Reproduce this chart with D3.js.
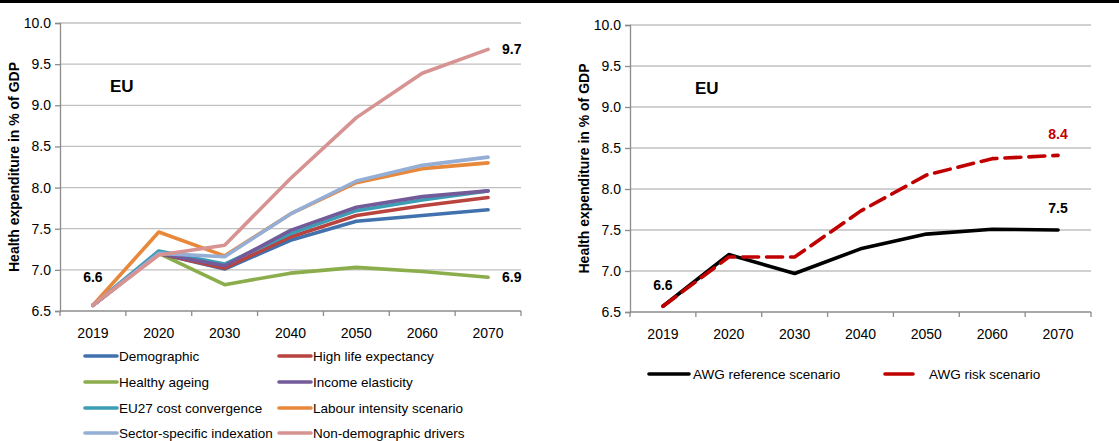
<!DOCTYPE html>
<html lang="en">
<head>
<meta charset="utf-8">
<title>Health expenditure projections - EU</title>
<script src="https://d3js.org/d3.v7.min.js"></script>
<style>
  body { margin: 0; background: #fff; }
  svg text { font-family: "Liberation Sans", Arial, sans-serif; }
</style>
</head>
<body>
<script>
// years on the x axis
var years = ["2019", "2020", "2030", "2040", "2050", "2060", "2070"];
var yTicks = [6.5, 7.0, 7.5, 8.0, 8.5, 9.0, 9.5, 10.0];

// left panel: sensitivity scenarios
var demographic   = [6.57, 7.20, 7.01, 7.36, 7.59, 7.66, 7.73];
var highLife      = [6.57, 7.20, 7.02, 7.40, 7.66, 7.78, 7.88];
var healthyAgeing = [6.57, 7.20, 6.82, 6.96, 7.03, 6.98, 6.91];
var incomeElast   = [6.57, 7.20, 7.05, 7.48, 7.76, 7.89, 7.96];
var costConv      = [6.57, 7.23, 7.07, 7.44, 7.72, 7.85, 7.96];
var labourInt     = [6.57, 7.46, 7.17, 7.68, 8.06, 8.23, 8.30];
var sectorIndex   = [6.57, 7.20, 7.16, 7.68, 8.08, 8.27, 8.37];
var nonDemo       = [6.57, 7.18, 7.30, 8.11, 8.85, 9.39, 9.68];

// right panel: AWG scenarios
var awgReference  = [6.57, 7.20, 6.97, 7.27, 7.45, 7.51, 7.50];
var awgRisk       = [6.57, 7.17, 7.17, 7.73, 8.17, 8.37, 8.41];

var leftSeries = [
  {name: "Demographic", values: demographic, color: "#4272ad"},
  {name: "High life expectancy", values: highLife, color: "#b8433f"},
  {name: "Healthy ageing", values: healthyAgeing, color: "#8cad4b"},
  {name: "Income elasticity", values: incomeElast, color: "#735b9a"},
  {name: "EU27 cost convergence", values: costConv, color: "#3c9db5"},
  {name: "Labour intensity scenario", values: labourInt, color: "#e8883b"},
  {name: "Sector-specific indexation", values: sectorIndex, color: "#94aed6"},
  {name: "Non-demographic drivers", values: nonDemo, color: "#d69391"}
];
// draw order in the picture (pink on top of the others)
var drawOrder = [2, 0, 1, 4, 3, 5, 6, 7];

var rightSeries = [
  {name: "AWG reference scenario", values: awgReference, color: "#000000"},
  {name: "AWG risk scenario", values: awgRisk, color: "#c00000", dash: "16,8"}
];

var W = 1119, H = 441;
var svg = d3.select("body").append("svg").attr("width", W).attr("height", H);

// thick rule at the top
svg.append("rect").attr("x", 0).attr("y", 0).attr("width", W).attr("height", 3).attr("fill", "#000");

function panel(x0, x1, yTop, yBot, euOffset, series, order) {
  var x = d3.scaleBand().domain(years).range([x0, x1]);
  var y = d3.scaleLinear().domain([6.5, 10]).range([yBot, yTop]);
  var g = svg.append("g");

  // gridlines
  g.selectAll(".grid").data(yTicks.slice(1)).enter().append("line")
    .attr("x1", x0).attr("x2", x1)
    .attr("y1", function(d) { return y(d); }).attr("y2", function(d) { return y(d); })
    .attr("stroke", "#c0c0c0").attr("stroke-width", 1.3);

  var yAxis = d3.axisLeft(y).tickValues(yTicks).tickFormat(d3.format(".1f")).tickSize(5).tickPadding(4);
  var ga = g.append("g").attr("transform", "translate(" + x0 + ",0)").call(yAxis);
  ga.select(".domain").attr("stroke", "#8c8c8c").attr("stroke-width", 1.3);
  ga.selectAll(".tick line").attr("stroke", "#8c8c8c").attr("stroke-width", 1.3);
  ga.selectAll("text").attr("font-size", 14).attr("fill", "#000");

  // x axis with tick marks at category boundaries
  g.append("line").attr("x1", x0).attr("x2", x1).attr("y1", yBot).attr("y2", yBot)
    .attr("stroke", "#8c8c8c").attr("stroke-width", 1.3);
  var bounds = years.map(function(d) { return x(d); }).concat([x1]);
  g.selectAll(".xt").data(bounds).enter().append("line")
    .attr("x1", function(d) { return d; }).attr("x2", function(d) { return d; })
    .attr("y1", yBot).attr("y2", yBot + 5)
    .attr("stroke", "#8c8c8c").attr("stroke-width", 1.3);
  g.selectAll(".xl").data(years).enter().append("text")
    .attr("x", function(d) { return x(d) + x.bandwidth() / 2; })
    .attr("y", yBot + 27)
    .attr("text-anchor", "middle").attr("font-size", 14)
    .text(function(d) { return d; });

  // y title
  g.append("text")
    .attr("transform", "translate(" + (x0 - 41) + "," + ((yTop + yBot) / 2) + ") rotate(-90)")
    .attr("text-anchor", "middle").attr("font-size", 14).attr("font-weight", "bold")
    .text("Health expenditure in % of GDP");

  // EU label
  g.append("text").attr("x", x0 + euOffset).attr("y", yTop + 69)
    .attr("font-size", 17).attr("font-weight", "bold").text("EU");

  var line = d3.line()
    .x(function(d, i) { return x(years[i]) + x.bandwidth() / 2; })
    .y(function(d) { return y(d); });

  order.forEach(function(k) {
    var s = series[k];
    g.append("path").datum(s.values)
      .attr("d", line).attr("fill", "none")
      .attr("stroke", s.color).attr("stroke-width", 3.6)
      .attr("stroke-linejoin", "round").attr("stroke-linecap", "round")
      .attr("stroke-dasharray", s.dash || null);
  });

  return {x: x, y: y, g: g};
}

// left panel
var L = panel(60, 521, 23, 311, 50, leftSeries, drawOrder);
var cx = function(yr) { return L.x(yr) + L.x.bandwidth() / 2; };
L.g.append("text").attr("x", cx("2019")).attr("y", L.y(6.6) - 21)
  .attr("text-anchor", "middle").attr("font-size", 14).attr("font-weight", "bold").text("6.6");
L.g.append("text").attr("x", cx("2070") + 14).attr("y", L.y(9.68) + 5)
  .attr("font-size", 14).attr("font-weight", "bold").text("9.7");
L.g.append("text").attr("x", cx("2070") + 14).attr("y", L.y(6.91) + 5)
  .attr("font-size", 14).attr("font-weight", "bold").text("6.9");

// left legend, two columns
var legRows = [356, 382, 408, 433];
var legCols = [85, 279];
leftSeries.forEach(function(s, i) {
  var lx = legCols[i % 2], ly = legRows[Math.floor(i / 2)];
  svg.append("line").attr("x1", lx).attr("x2", lx + 32).attr("y1", ly).attr("y2", ly)
    .attr("stroke", s.color).attr("stroke-width", 3.6).attr("stroke-linecap", "round");
  svg.append("text").attr("x", lx + 34).attr("y", ly + 5).attr("font-size", 13.5).text(s.name);
});

// right panel
var R = panel(630, 1091, 25, 312, 65, rightSeries, [0, 1]);
var rx = function(yr) { return R.x(yr) + R.x.bandwidth() / 2; };
R.g.append("text").attr("x", rx("2019")).attr("y", R.y(6.6) - 14)
  .attr("text-anchor", "middle").attr("font-size", 14).attr("font-weight", "bold").text("6.6");
R.g.append("text").attr("x", rx("2070")).attr("y", R.y(8.41) - 16)
  .attr("text-anchor", "middle").attr("font-size", 14).attr("font-weight", "bold")
  .attr("fill", "#c00000").text("8.4");
R.g.append("text").attr("x", rx("2070")).attr("y", R.y(7.5) - 17)
  .attr("text-anchor", "middle").attr("font-size", 14).attr("font-weight", "bold").text("7.5");

// right legend
var rLeg = [{x1: 649, x2: 689, tx: 693}, {x1: 885, x2: 913, tx: 929}];
rightSeries.forEach(function(s, i) {
  svg.append("line").attr("x1", rLeg[i].x1).attr("x2", rLeg[i].x2).attr("y1", 374).attr("y2", 374)
    .attr("stroke", s.color).attr("stroke-width", 3.6).attr("stroke-linecap", "round");
  svg.append("text").attr("x", rLeg[i].tx).attr("y", 379).attr("font-size", 13.5).text(s.name);
});
</script>
</body>
</html>
